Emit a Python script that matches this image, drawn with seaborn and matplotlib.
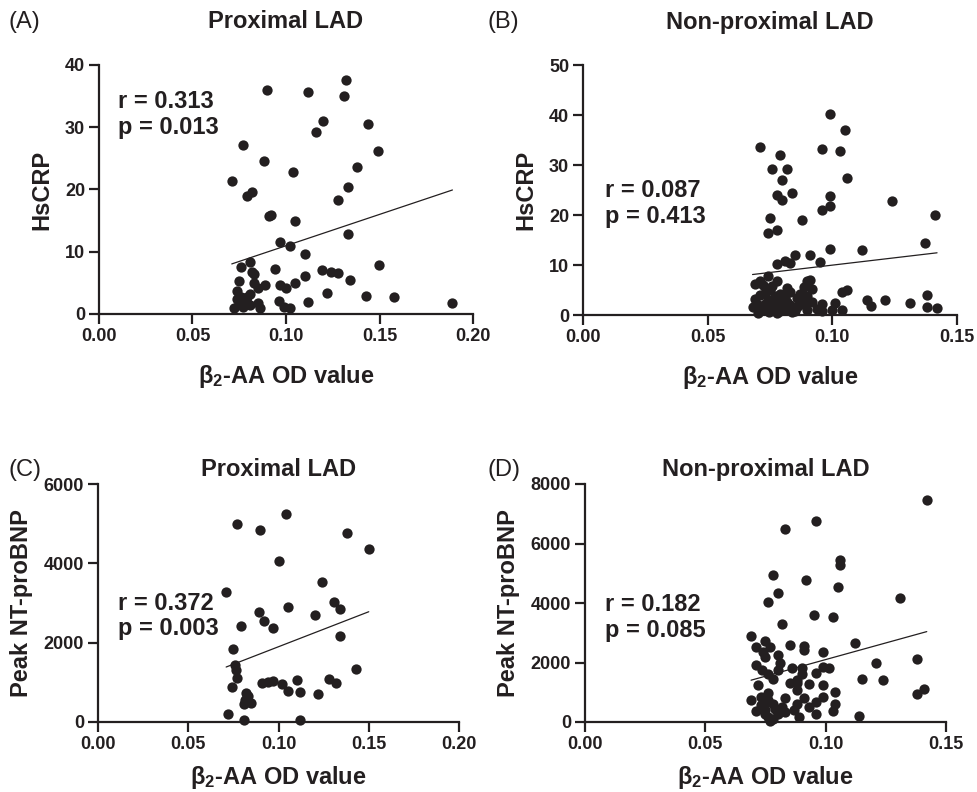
import matplotlib
matplotlib.use('Agg')
import matplotlib.pyplot as plt
import seaborn as sns
from matplotlib.ticker import FormatStrFormatter

sns.set_theme(style='ticks')
plt.rcParams['font.family'] = ['Liberation Sans', 'DejaVu Sans']
plt.rcParams['font.weight'] = 'bold'
plt.rcParams['axes.labelweight'] = 'bold'
plt.rcParams['mathtext.fontset'] = 'custom'
plt.rcParams['mathtext.rm'] = 'Liberation Sans'
plt.rcParams['mathtext.bf'] = 'Liberation Sans:bold'
plt.rcParams['mathtext.default'] = 'bf'

INK = '#231f20'

# (A) Proximal LAD - HsCRP
a_x = [0.132, 0.090, 0.112, 0.131, 0.120, 0.144, 0.116, 0.077, 0.149, 0.088,
       0.138, 0.104, 0.071, 0.133, 0.082, 0.079, 0.128, 0.091, 0.092, 0.105,
       0.133, 0.097, 0.102, 0.110, 0.081, 0.076, 0.150, 0.094, 0.119, 0.124,
       0.128, 0.082, 0.083, 0.110, 0.134, 0.075, 0.105, 0.083, 0.089, 0.097,
       0.100, 0.085, 0.081, 0.074, 0.122, 0.143, 0.158, 0.189, 0.112, 0.096,
       0.076, 0.074, 0.079, 0.085, 0.081, 0.072, 0.077, 0.086, 0.099, 0.102,
       0.075, 0.079]
a_y = [37.6, 36.0, 35.7, 35.0, 31.0, 30.5, 29.2, 27.2, 26.2, 24.6,
       23.6, 22.8, 21.4, 20.4, 19.6, 19.0, 18.3, 15.8, 15.9, 14.9,
       12.8, 11.5, 11.0, 9.6, 8.3, 7.5, 7.9, 7.3, 7.1, 6.7,
       6.6, 6.7, 6.5, 6.1, 5.4, 5.3, 4.9, 4.9, 4.7, 4.6,
       4.1, 4.1, 3.2, 3.7, 3.3, 2.9, 2.7, 1.8, 2.0, 2.1,
       2.8, 2.4, 2.7, 1.7, 1.4, 1.0, 1.1, 0.9, 1.2, 0.9,
       2.0, 1.7]

# (B) Non-proximal LAD - HsCRP
b_x = [0.099, 0.105, 0.071, 0.096, 0.103, 0.079, 0.076, 0.082, 0.080, 0.106,
       0.078, 0.084, 0.080, 0.099, 0.124, 0.099, 0.096, 0.141, 0.075, 0.088,
       0.078, 0.074, 0.137, 0.099, 0.112, 0.085, 0.091, 0.081, 0.078, 0.083,
       0.095, 0.074, 0.069, 0.072, 0.078, 0.090, 0.0885, 0.092, 0.106, 0.104,
       0.083, 0.075, 0.071, 0.077, 0.080, 0.086, 0.090, 0.114, 0.121, 0.131,
       0.138, 0.101, 0.1155, 0.138, 0.142, 0.070, 0.073, 0.076, 0.080, 0.082,
       0.086, 0.089, 0.092, 0.096, 0.071, 0.075, 0.079, 0.085, 0.090, 0.096,
       0.104, 0.074, 0.094, 0.087, 0.078, 0.068, 0.100, 0.091,
       0.070, 0.072, 0.073, 0.076, 0.077, 0.079, 0.081, 0.081, 0.083, 0.084,
       0.069, 0.0745, 0.078, 0.082, 0.087, 0.071]
b_y = [40.3, 37.0, 33.7, 33.3, 32.8, 32.1, 29.2, 29.2, 27.1, 27.4,
       24.1, 24.4, 23.0, 23.9, 22.9, 21.9, 21.0, 20.1, 19.5, 19.0,
       17.0, 16.4, 14.5, 13.2, 13.1, 12.0, 12.1, 10.9, 10.2, 10.5,
       10.7, 7.8, 6.2, 6.1, 6.9, 6.9, 5.7, 5.3, 5.1, 4.6,
       4.7, 5.0, 4.0, 3.8, 3.3, 3.4, 3.8, 3.1, 3.1, 2.5,
       4.1, 2.5, 1.8, 1.7, 1.5, 2.0, 2.3, 1.7, 2.0, 2.7,
       1.7, 2.0, 2.7, 2.3, 0.9, 1.0, 0.9, 0.9, 1.0, 0.9,
       1.0, 3.0, 1.3, 2.7, 2.7, 1.7, 1.0, 7.0,
       0.5, 1.2, 4.5, 5.8, 2.5, 4.2, 1.3, 3.6, 2.0, 0.6,
       3.3, 0.6, 0.5, 5.5, 4.2, 6.8]

# (C) Proximal LAD - Peak NT-proBNP
c_x = [0.104, 0.077, 0.090, 0.138, 0.150, 0.100, 0.124, 0.071, 0.131, 0.134,
       0.105, 0.089, 0.120, 0.092, 0.097, 0.079, 0.134, 0.075, 0.076, 0.0765,
       0.077, 0.143, 0.074, 0.091, 0.094, 0.097, 0.102, 0.110, 0.105, 0.112,
       0.122, 0.128, 0.132, 0.082, 0.0825, 0.085, 0.081, 0.072, 0.081, 0.112,
       0.0815, 0.083]
c_y = [5250, 4980, 4840, 4770, 4350, 4070, 3520, 3270, 3030, 2860,
       2890, 2770, 2710, 2540, 2360, 2410, 2180, 1830, 1430, 1300,
       1110, 1330, 890, 985, 1000, 1040, 960, 1060, 790, 750,
       710, 1090, 990, 730, 600, 490, 460, 210, 40, 60,
       560, 650]

# (D) Non-proximal LAD - Peak NT-proBNP
d_x = [0.142, 0.096, 0.083, 0.106, 0.106, 0.078, 0.092, 0.105, 0.080, 0.076,
       0.131, 0.095, 0.103, 0.082, 0.069, 0.075, 0.071, 0.077, 0.085, 0.091,
       0.091, 0.112, 0.099, 0.075, 0.080, 0.081, 0.138, 0.121, 0.071, 0.086,
       0.090, 0.099, 0.1015, 0.0735, 0.080, 0.096, 0.090, 0.115, 0.124, 0.078,
       0.085, 0.088, 0.093, 0.072, 0.099, 0.088, 0.138, 0.141, 0.104, 0.076,
       0.069, 0.076, 0.083, 0.091, 0.099, 0.096, 0.104, 0.073, 0.078, 0.071,
       0.075, 0.083, 0.087, 0.089, 0.096, 0.103, 0.114, 0.076, 0.078, 0.073,
       0.074, 0.088, 0.076, 0.088, 0.093, 0.082, 0.075, 0.080,
       0.077, 0.079, 0.0745]
d_y = [7450, 6770, 6500, 5440, 5280, 4930, 4780, 4540, 4330, 4030,
       4170, 3590, 3540, 3300, 2900, 2730, 2520, 2520, 2590, 2550,
       2410, 2670, 2340, 2190, 2250, 1970, 2120, 2000, 1930, 1820,
       1800, 1850, 1800, 1740, 1740, 1640, 1610, 1450, 1400, 1430,
       1310, 1310, 1290, 1240, 1240, 1090, 940, 1110, 1010, 960,
       730, 730, 790, 790, 840, 670, 620, 560, 620, 360,
       390, 340, 390, 170, 280, 360, 190, 170, 110, 840,
       2360, 1400, 1630, 620, 500, 500, 280, 280,
       50, 450, 600]

panel_tags = ['(A)', '(B)', '(C)', '(D)']
titles = ['Proximal LAD', 'Non-proximal LAD', 'Proximal LAD', 'Non-proximal LAD']
y_labels = ['HsCRP', 'HsCRP', 'Peak NT-proBNP', 'Peak NT-proBNP']
stats = ['r = 0.313\np = 0.013', 'r = 0.087\np = 0.413',
         'r = 0.372\np = 0.003', 'r = 0.182\np = 0.085']
x_label = r'β$_2$-AA OD value'

W, H = 978, 792
fig = plt.figure(figsize=(W / 100, H / 100), dpi=100)


def add_axes(left, right, top, bottom):
    return fig.add_axes([left / W, 1 - bottom / H, (right - left) / W, (bottom - top) / H])


# pixel boxes of each plotting area and axis setup
boxes = [(99, 473, 65, 314), (583, 957, 65, 315), (98, 459, 484, 722), (585, 946, 484, 722)]
xlims = [0.20, 0.15, 0.20, 0.15]
ylims = [40, 50, 6000, 8000]
ysteps = [10, 10, 2000, 2000]
title_y = [1.173, 1.17, 1.059, 1.059]
tag_pos = [(8, 22), (488, 22), (8, 470), (488, 470)]
stat_pos = [(0.051, 0.80), (0.059, 0.445), (0.055, 0.445), (0.055, 0.44)]
xlabel_pad = [13, 13, 8, 8]
xs = [a_x, b_x, c_x, d_x]
ys = [a_y, b_y, c_y, d_y]

for i in range(4):
    ax = add_axes(*boxes[i])
    sns.regplot(x=xs[i], y=ys[i], ax=ax, ci=None, truncate=True, color=INK,
                scatter_kws=dict(s=55, linewidths=0, alpha=1, clip_on=False, zorder=3),
                line_kws=dict(color=INK, lw=0.9))
    ax.set_xlim(0, xlims[i])
    ax.set_ylim(0, ylims[i])
    ax.set_xticks([k * 0.05 for k in range(int(round(xlims[i] / 0.05)) + 1)])
    ax.set_yticks(list(range(0, ylims[i] + 1, ysteps[i])))
    ax.xaxis.set_major_formatter(FormatStrFormatter('%.2f'))
    sns.despine(ax=ax)
    for side in ['left', 'bottom']:
        ax.spines[side].set_linewidth(1.6)
        ax.spines[side].set_color(INK)
    ax.tick_params(width=1.6, length=7, labelsize=13, color=INK, labelcolor=INK, pad=3)
    ax.set_xlabel(x_label, fontsize=17, fontweight='bold', color=INK, labelpad=xlabel_pad[i])
    ax.set_ylabel(y_labels[i], fontsize=17, fontweight='bold', color=INK, labelpad=8)
    ax.text(0.5, title_y[i], titles[i], transform=ax.transAxes, ha='center', va='center',
            fontsize=17, color=INK)
    ax.text(stat_pos[i][0], stat_pos[i][1], stats[i], transform=ax.transAxes, ha='left',
            va='center', fontsize=17, color=INK, linespacing=1.15)
    fig.text(tag_pos[i][0] / W, 1 - tag_pos[i][1] / H, panel_tags[i], ha='left', va='center',
             fontsize=17, fontweight='normal', color=INK)

fig.savefig('out.png', dpi=100)
